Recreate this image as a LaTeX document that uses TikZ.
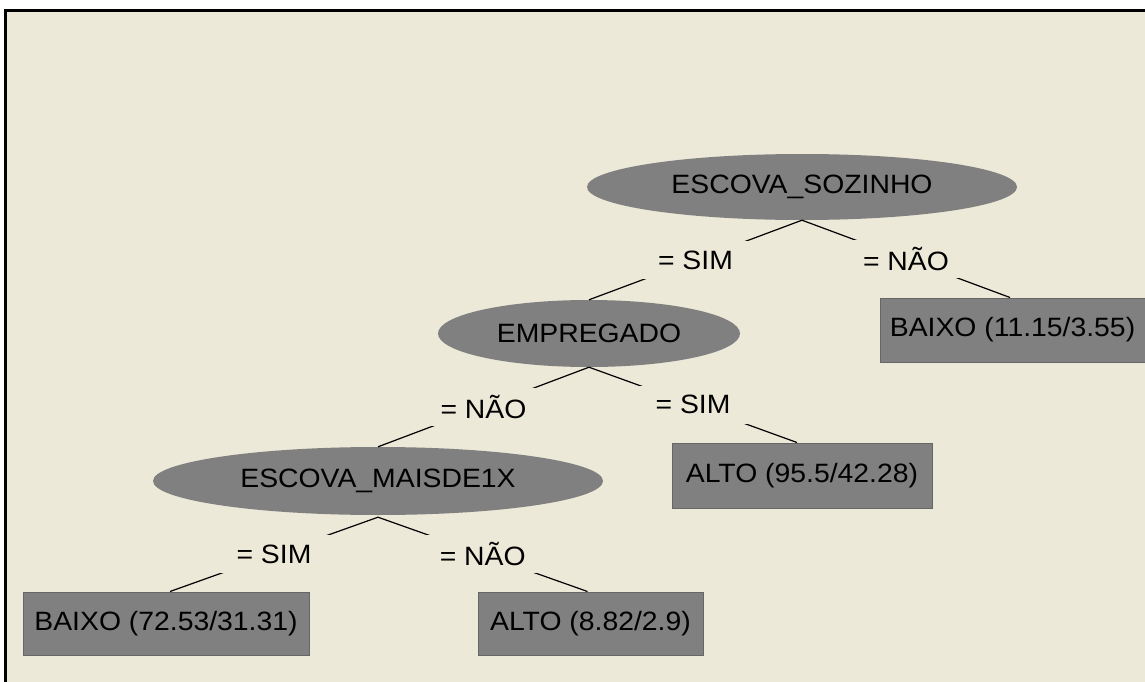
\documentclass[tikz,border=0pt]{standalone}
\usepackage{fontspec}
\setmainfont{Liberation Sans}[FakeStretch=1.07]
\usetikzlibrary{shapes.geometric}
\definecolor{bgc}{HTML}{ECE9D8}
\definecolor{nodegray}{HTML}{808080}
\definecolor{edgegray}{HTML}{666666}
\begin{document}
\begin{tikzpicture}[x=1pt,y=-1pt,
  every node/.style={font=\fontsize{26.5}{30}\selectfont},
  splitnode/.style={ellipse, fill=nodegray, inner sep=0pt},
  leafbox/.style={rectangle, fill=nodegray, draw=edgegray, line width=1pt, inner sep=0pt, minimum height=63},
  branch/.style={draw=black, line width=1.2pt},
  lbl/.style={fill=bgc, inner sep=0pt, minimum height=38, minimum width=120}]
\useasboundingbox (0,0) rectangle (1145,682);
\clip (0,0) rectangle (1145,682);
\fill[white] (0,0) rectangle (1145,682);
\fill[bgc] (4,9) rectangle (1160,700);
\fill[black] (4,9) rectangle (7,700);
\fill[black] (4,9) rectangle (1160,12);

\node[splitnode, minimum width=430, minimum height=66] (root) at (802,187) {ESCOVA\_SOZINHO};
\node[splitnode, minimum width=302, minimum height=67] (emp) at (589,333.5) {EMPREGADO};
\node[splitnode, minimum width=450, minimum height=68] (mais) at (378,481) {ESCOVA\_MAISDE1X};

\node[leafbox, minimum width=265, minimum height=64] (baixoA) at (1012.5,330) {BAIXO (11.15/3.55)};
\node[leafbox, minimum width=260, minimum height=65] (altoA) at (802,475.5) {ALTO (95.5/42.28)};
\node[leafbox, minimum width=286] (baixoB) at (166,623.5) {BAIXO (72.53/31.31)};
\node[leafbox, minimum width=225] (altoB) at (590.5,623.5) {ALTO (8.82/2.9)};

\path[branch] (root.south) -- node[lbl] {= SIM} (emp.north);
\path[branch] (root.south) -- node[lbl] {= NÃO} ([xshift=-2.5]baixoA.north);
\path[branch] (emp.south) -- node[lbl] {= NÃO} (mais.north);
\path[branch] (emp.south) -- node[lbl] {= SIM} ([xshift=-5]altoA.north);
\path[branch] ([yshift=-2]mais.south) -- node[lbl] {= SIM} ([xshift=4]baixoB.north);
\path[branch] ([yshift=-2]mais.south) -- node[lbl] {= NÃO} ([xshift=-3]altoB.north);
\end{tikzpicture}
\end{document}
